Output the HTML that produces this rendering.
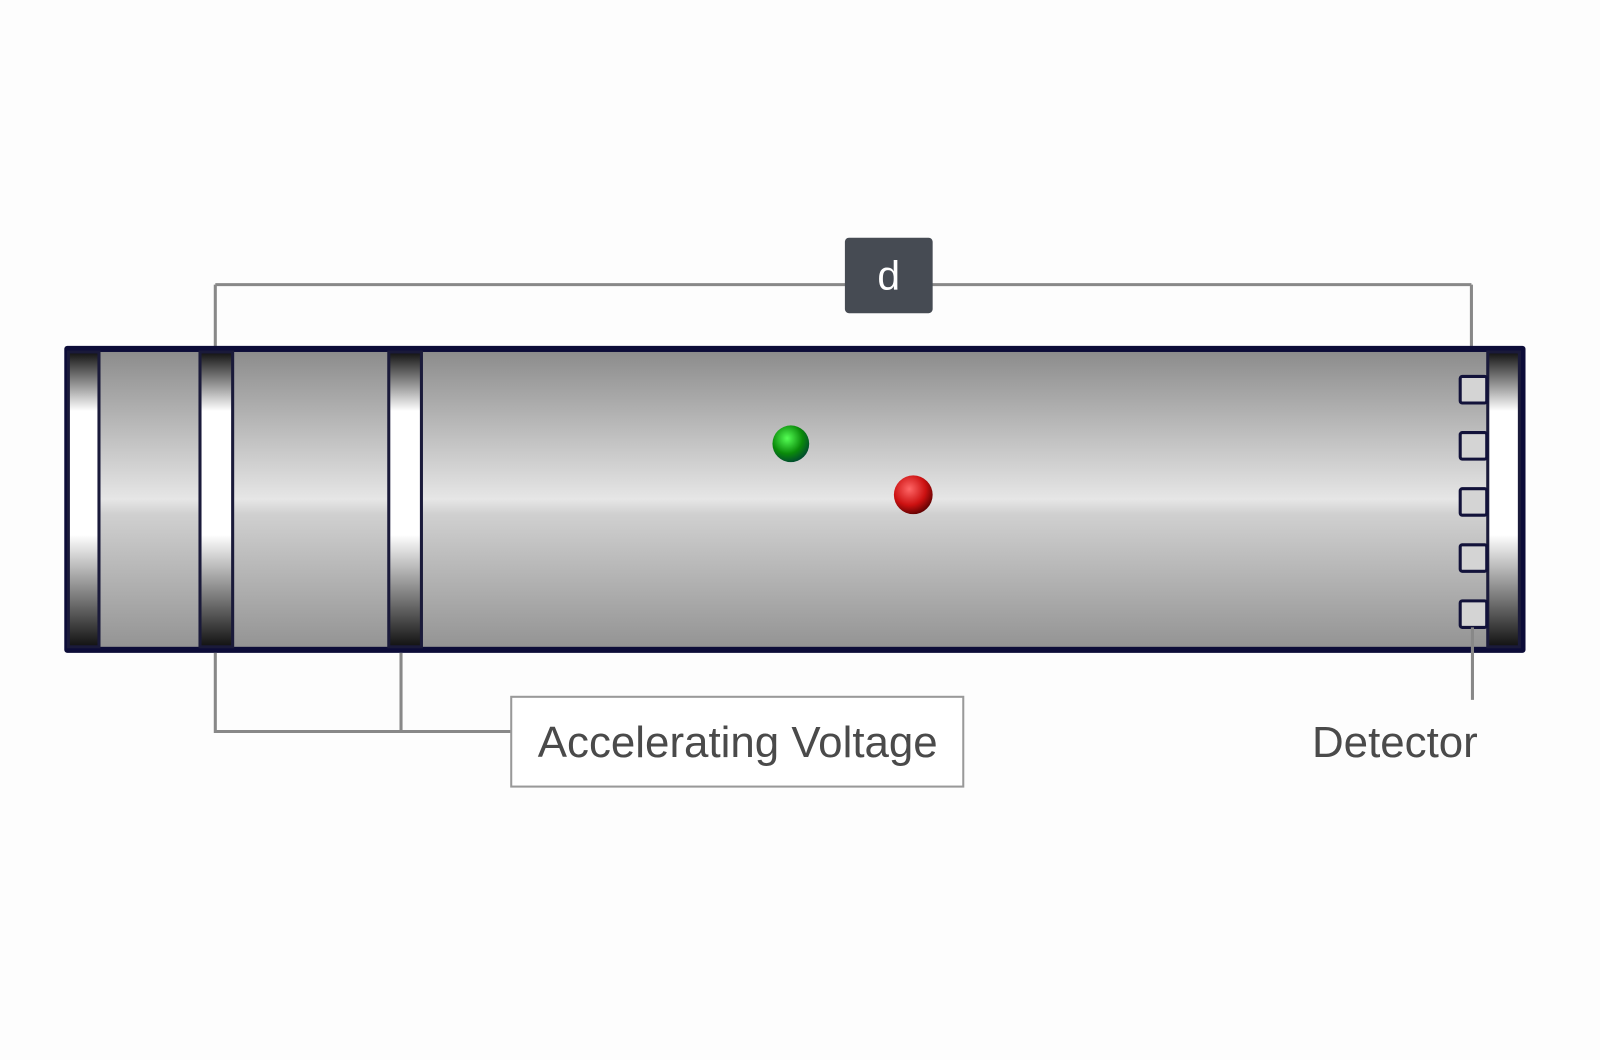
<!DOCTYPE html>
<html><head><style>html,body{margin:0;padding:0;background:#fdfdfd}svg{display:block}</style></head>
<body>
<svg width="1600" height="1060" viewBox="0 0 1568 1039" preserveAspectRatio="none" xmlns="http://www.w3.org/2000/svg">
<defs>
<linearGradient id="body" x1="0" y1="0" x2="0" y2="1">
<stop offset="0" stop-color="#8c8c8c"/><stop offset="0.5" stop-color="#e6e6e6"/><stop offset="0.55" stop-color="#d0d0d0"/><stop offset="1" stop-color="#949494"/>
</linearGradient>
<linearGradient id="ring" x1="0" y1="0" x2="0" y2="1">
<stop offset="0" stop-color="#111"/><stop offset="0.2" stop-color="#fff"/><stop offset="0.62" stop-color="#fff"/><stop offset="1" stop-color="#111"/>
</linearGradient>
<radialGradient id="g" cx="0.4" cy="0.35" r="0.7"><stop offset="0" stop-color="#5f5"/><stop offset="0.6" stop-color="#0a8a0a"/><stop offset="1" stop-color="#043"/></radialGradient>
<radialGradient id="r" cx="0.4" cy="0.35" r="0.7"><stop offset="0" stop-color="#f66"/><stop offset="0.6" stop-color="#c11"/><stop offset="1" stop-color="#500"/></radialGradient>
</defs>
<line x1="211" y1="279" x2="1442" y2="279" stroke="#888" stroke-width="3"/>
<line x1="211" y1="279" x2="211" y2="345" stroke="#888" stroke-width="3"/>
<line x1="1442" y1="279" x2="1442" y2="372" stroke="#888" stroke-width="3"/>
<rect x="63" y="339" width="1432" height="301" rx="3" fill="#0c0c38"/>
<rect x="69" y="345" width="1420" height="289" fill="url(#body)"/>
<g stroke="#1a1a3a" stroke-width="3">
<rect x="67" y="345" width="30" height="289" fill="url(#ring)"/>
<rect x="196" y="345" width="32" height="289" fill="url(#ring)"/>
<rect x="381" y="345" width="32" height="289" fill="url(#ring)"/>
<rect x="1458" y="345" width="31" height="289" fill="url(#ring)"/>
</g>
<g fill="#d4d4d4" stroke="#12123a" stroke-width="3">
<rect x="1431" y="369" width="26" height="26" rx="2"/>
<rect x="1431" y="424" width="26" height="26" rx="2"/>
<rect x="1431" y="479" width="26" height="26" rx="2"/>
<rect x="1431" y="534" width="26" height="26" rx="2"/>
<rect x="1431" y="589" width="26" height="26" rx="2"/>
</g>
<circle cx="775" cy="435" r="18" fill="url(#g)"/>
<circle cx="895" cy="485" r="19" fill="url(#r)"/>
<rect x="828" y="233" width="86" height="74" rx="4" fill="#464b53"/>
<text x="871" y="284" font-family="Liberation Sans, sans-serif" font-size="40" fill="#fff" text-anchor="middle">d</text>
<polyline points="211,640 211,717 501,717" fill="none" stroke="#888" stroke-width="3"/>
<line x1="393" y1="640" x2="393" y2="717" stroke="#888" stroke-width="3"/>
<rect x="501" y="683" width="443" height="88" fill="#fff" stroke="#999" stroke-width="2"/>
<text x="723" y="742" font-family="Liberation Sans, sans-serif" font-size="43" fill="#4a4a4a" text-anchor="middle">Accelerating Voltage</text>
<line x1="1443" y1="615" x2="1443" y2="686" stroke="#888" stroke-width="3"/>
<text x="1367" y="742" font-family="Liberation Sans, sans-serif" font-size="43" fill="#4a4a4a" text-anchor="middle">Detector</text>
</svg>
</body></html>
